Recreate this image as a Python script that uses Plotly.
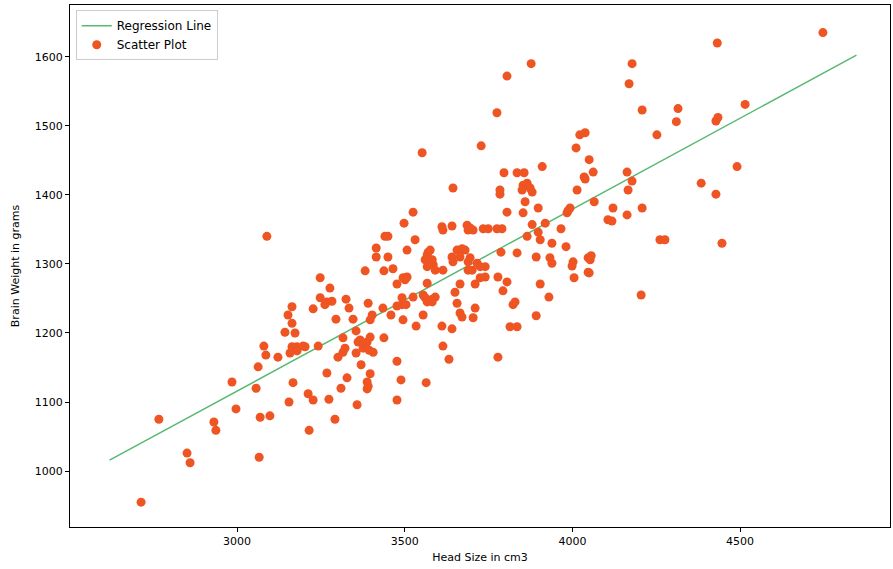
import plotly.graph_objects as go

points = [
(4747,1635),(4432,1620),(3877,1590),(4178,1590),(3805,1572),(4169,1561),(4208,1523),(4315,1525),
(4515,1531),(3775,1519),(4310,1506),(4428,1507),(4434,1512),(4252,1487),(4022,1487),(4038,1490),
(4011,1468),(3728,1471),(3552,1461),(4050,1451),(4035,1426),(4062,1433),(4163,1433),(4178,1420),
(4491,1441),(4384,1417),(4166,1407),(3910,1441),(3796,1432),(3835,1432),(3856,1432),(4038,1423),
(3644,1410),(3853,1414),(3865,1417),(3874,1410),(3784,1407),(4014,1407),(3089,1340),(3080,1181),
(3525,1375),(3498,1359),(3441,1340),(3450,1340),(3531,1335),(3415,1323),(3415,1310),(3450,1310),
(3507,1320),(3570,1317),(3567,1306),(3567,1296),(3382,1290),(3438,1290),(3465,1293),(3495,1280),
(3507,1281),(3501,1277),(3477,1271),(3248,1280),(3277,1265),(3248,1251),(3268,1245),(3283,1246),
(3262,1241),(3325,1249),(3334,1236),(3391,1243),(3435,1236),(3164,1238),(3227,1235),(3152,1226),
(3164,1214),(3295,1220),(3346,1220),(3403,1226),(3397,1219),(3459,1226),(3495,1219),(3534,1210),
(3555,1226),(3477,1239),(3492,1241),(3504,1241),(3492,1251),(3525,1252),(3555,1255),(3561,1251),
(3567,1245),(3143,1201),(3173,1200),(3355,1203),(3316,1193),(3367,1190),(3388,1187),(3397,1194),
(3438,1193),(3164,1180),(3179,1180),(3197,1181),(3242,1181),(3322,1178),(3376,1178),
(3784,1401),(3880,1404),(3850,1407),(3859,1390),(3898,1381),(3805,1375),(3853,1374),(3984,1374),
(3993,1381),(3987,1377),(3611,1354),(3614,1349),(3641,1355),(3686,1356),(3695,1352),(3704,1349),
(3689,1349),(3734,1351),(3749,1351),(3775,1351),(3790,1351),(3880,1357),(3919,1359),(3898,1346),
(3904,1335),(3865,1340),(3966,1351),(3939,1330),(3981,1325),(3576,1320),(3567,1313),(3561,1306),
(3570,1301),(3582,1306),(3585,1299),(3591,1291),(3614,1291),(3656,1320),(3671,1322),(3680,1320),
(3641,1310),(3644,1303),(3665,1310),(3695,1309),(3689,1303),(3689,1291),(3701,1291),(3716,1301),
(3725,1296),(3740,1296),(3787,1317),(3835,1316),(3892,1310),(3933,1309),(3939,1301),(4002,1303),
(3999,1297),(4047,1309),(4047,1288),(4005,1280),(3567,1272),(3710,1271),(3725,1280),(3740,1281),
(3778,1281),(3805,1274),(3665,1271),(3650,1259),(3793,1261),(3904,1271),(3930,1252),(3582,1249),
(3591,1252),(3582,1245),(3656,1243),(3665,1229),(3671,1223),(3710,1236),(3704,1222),(3829,1245),
(3823,1241),(3892,1225),(3611,1210),(3641,1206),(3814,1209),(3835,1209),(3614,1181),
(4428,1401),(4065,1390),(4121,1381),(4208,1381),(4163,1371),(4106,1364),(4118,1362),(4261,1335),
(4276,1335),(4446,1330),(4056,1312),(4053,1306),(4050,1287),(4205,1255),
(3086,1168),(3063,1151),(2985,1129),(3057,1120),(2997,1090),(2767,1075),(2931,1071),(2937,1059),
(3069,1078),(3098,1080),(2851,1026),(2860,1012),(3066,1020),(2714,955),
(3122,1165),(3158,1171),(3167,1178),(3179,1174),(3203,1180),(3301,1165),(3316,1172),(3355,1171),
(3361,1187),(3370,1187),(3394,1175),(3406,1172),(3370,1154),(3397,1141),(3388,1129),(3391,1123),
(3388,1119),(3477,1159),(3489,1132),(3564,1128),(3477,1103),(3268,1142),(3328,1135),(3310,1120),
(3167,1128),(3212,1112),(3227,1103),(3274,1104),(3155,1100),(3358,1096),(3292,1075),(3215,1059),
(3632,1162),(3778,1165),
]
head_size = [p[0] for p in points]
brain_weight = [p[1] for p in points]

# regression line
b0 = 325.57
b1 = 0.26343
line_x = [2620, 4847]
line_y = [b0 + b1 * v for v in line_x]

x_ticks = [3000, 3500, 4000, 4500]
y_ticks = [1000, 1100, 1200, 1300, 1400, 1500, 1600]

fig = go.Figure()
fig.add_trace(go.Scatter(x=line_x, y=line_y, mode="lines", name="Regression Line",
                         line=dict(color="#58b970", width=1.5)))
fig.add_trace(go.Scatter(x=head_size, y=brain_weight, mode="markers", name="Scatter Plot",
                         marker=dict(color="#ef5423", size=9, line=dict(width=0))))

axis_common = dict(showline=True, linecolor="black", linewidth=1, mirror=True,
                   ticks="outside", ticklen=4, tickcolor="black", showgrid=False,
                   zeroline=False, automargin=False,
                   tickfont=dict(family="DejaVu Sans", size=11, color="black"))
fig.update_layout(
    width=893, height=569,
    margin=dict(l=70, r=3, t=5, b=42),
    paper_bgcolor="white", plot_bgcolor="white",
    font=dict(family="DejaVu Sans", size=11, color="black"),
    xaxis=dict(range=[2502, 4947], tickvals=x_ticks,
               title=dict(text="Head Size in cm3", font=dict(size=11), standoff=6), **axis_common),
    yaxis=dict(range=[919, 1675], tickvals=y_ticks,
               title=dict(text="Brain Weight in grams", font=dict(size=11), standoff=12), **axis_common),
    legend=dict(x=0.007, y=0.99, xanchor="left", yanchor="top", bgcolor="white",
                bordercolor="#cccccc", borderwidth=1, font=dict(size=12),
                tracegroupgap=2, itemwidth=30),
    showlegend=True,
)
fig.write_html("out.html", config={"displayModeBar": False},
               post_script="document.body.style.margin='0';document.body.style.overflow='hidden';")
